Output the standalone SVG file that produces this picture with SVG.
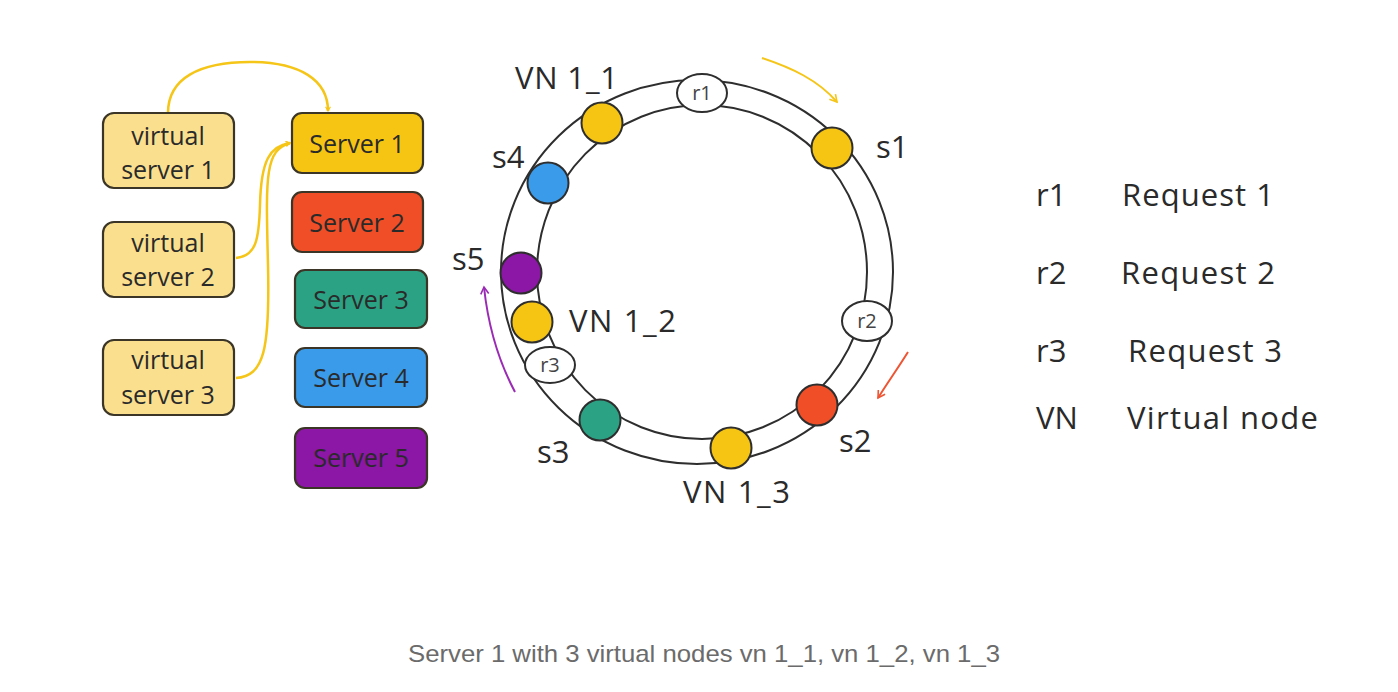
<svg xmlns="http://www.w3.org/2000/svg" width="1398" height="692" viewBox="0 0 1398 692">
<defs>
<style>
.t{font-family:"Open Sans","Noto Sans","DejaVu Sans",sans-serif;fill:#2a2a2a}
.bx{font-size:25px;text-anchor:middle}
.lb{font-size:31px}
.vs{fill:#FAE08E;stroke:#3a3526;stroke-width:2.2}
.sv{stroke:#3a3526;stroke-width:2.2}
.nd{stroke:#2e2e2e;stroke-width:2}
.rq{fill:#fff;stroke:#2e2e2e;stroke-width:2}
.rqt{font-size:20px;text-anchor:middle;fill:#444}
.cn{fill:none;stroke:#F5C518;stroke-width:2.5}
</style>
<marker id="ay" viewBox="0 0 10 10" refX="8" refY="5" markerWidth="6" markerHeight="6" orient="auto" markerUnits="userSpaceOnUse">
<path d="M1,1 L8,5 L1,9" fill="none" stroke="#F5C518" stroke-width="2"/>
</marker>
<marker id="ar" viewBox="0 0 10 10" refX="8" refY="5" markerWidth="10" markerHeight="10" orient="auto" markerUnits="userSpaceOnUse">
<path d="M1,1 L8,5 L1,9" fill="none" stroke="#EE5533" stroke-width="1.6"/>
</marker>
<marker id="ap" viewBox="0 0 10 10" refX="8" refY="5" markerWidth="10" markerHeight="10" orient="auto" markerUnits="userSpaceOnUse">
<path d="M1,1 L8,5 L1,9" fill="none" stroke="#9B2BB5" stroke-width="1.6"/>
</marker>
<marker id="ayr" viewBox="0 0 10 10" refX="8" refY="5" markerWidth="10" markerHeight="10" orient="auto" markerUnits="userSpaceOnUse">
<path d="M1,1 L8,5 L1,9" fill="none" stroke="#F5C518" stroke-width="1.6"/>
</marker>
</defs>
<rect width="1398" height="692" fill="#fff"/>

<g id="connectors">
<path class="cn" d="M168,113 C168,78 200,62 250,62 C300,62 328,80 328,111" marker-end="url(#ay)"/>
<path class="cn" d="M236,258 C256,256 259,240 260,205 C261,160 270,146 290,143" marker-end="url(#ay)"/>
<path class="cn" d="M236,378 C264,376 270,350 268,265 C266,180 264,150 290,143" marker-end="url(#ay)"/>
<path d="M762,58 C792,68 818,80 837,102" fill="none" stroke="#F5C518" stroke-width="2" marker-end="url(#ayr)"/>
<path d="M908,352 C898,368 888,382 878,398" fill="none" stroke="#EE5533" stroke-width="2" marker-end="url(#ar)"/>
<path d="M515,392 C498,360 488,325 484,287" fill="none" stroke="#9B2BB5" stroke-width="2" marker-end="url(#ap)"/>
</g>

<g id="vserver1"><rect class="vs" x="103" y="113" width="131" height="75" rx="11"/>
<text class="t bx" x="168" y="145">virtual</text><text class="t bx" x="168" y="179">server 1</text></g>
<g id="vserver2"><rect class="vs" x="103" y="222" width="131" height="75" rx="11"/>
<text class="t bx" x="168" y="252">virtual</text><text class="t bx" x="168" y="286">server 2</text></g>
<g id="vserver3"><rect class="vs" x="103" y="340" width="131" height="75" rx="11"/>
<text class="t bx" x="168" y="369">virtual</text><text class="t bx" x="168" y="404">server 3</text></g>

<g id="server1"><rect class="sv" x="292" y="113" width="131" height="60" rx="10" fill="#F6C514"/>
<text class="t bx" x="357" y="153">Server 1</text></g>
<g id="server2"><rect class="sv" x="292" y="192" width="131" height="60" rx="10" fill="#EF4E27"/>
<text class="t bx" x="357" y="232">Server 2</text></g>
<g id="server3"><rect class="sv" x="295" y="270" width="132" height="58" rx="10" fill="#2BA283"/>
<text class="t bx" x="361" y="309">Server 3</text></g>
<g id="server4"><rect class="sv" x="295" y="348" width="132" height="59" rx="10" fill="#3A9BEA"/>
<text class="t bx" x="361" y="387">Server 4</text></g>
<g id="server5"><rect class="sv" x="295" y="428" width="132" height="60" rx="10" fill="#8C16A6"/>
<text class="t bx" x="361" y="467">Server 5</text></g>

<g id="ring">
<ellipse cx="697" cy="272" rx="196" ry="192" fill="none" stroke="#2e2e2e" stroke-width="2"/>
<ellipse cx="702" cy="272" rx="165" ry="167" fill="none" stroke="#2e2e2e" stroke-width="2"/>
</g>

<g id="r1"><ellipse class="rq" cx="702" cy="93" rx="25" ry="19"/><text class="t rqt" x="702" y="100">r1</text></g>
<g id="r2"><ellipse class="rq" cx="867" cy="321" rx="25" ry="20"/><text class="t rqt" x="867" y="328">r2</text></g>
<g id="r3"><ellipse class="rq" cx="550" cy="365" rx="25" ry="18"/><text class="t rqt" x="550" y="372">r3</text></g>

<g id="vn11"><circle class="nd" cx="602" cy="123" r="20.5" fill="#F6C514"/><text class="t lb" x="515" y="89" textLength="103">VN 1_1</text></g>
<g id="s1"><circle class="nd" cx="832" cy="148" r="20.5" fill="#F6C514"/><text class="t lb" x="876" y="158">s1</text></g>
<g id="s4"><circle class="nd" cx="548" cy="183" r="20.5" fill="#3A9BEA"/><text class="t lb" x="492" y="168">s4</text></g>
<g id="s5"><circle class="nd" cx="521" cy="273" r="20.5" fill="#8C16A6"/><text class="t lb" x="452" y="270">s5</text></g>
<g id="vn12"><circle class="nd" cx="532" cy="322" r="20.5" fill="#F6C514"/><text class="t lb" x="569" y="332" textLength="107">VN 1_2</text></g>
<g id="s3"><circle class="nd" cx="600" cy="420" r="20.5" fill="#2BA283"/><text class="t lb" x="537" y="463">s3</text></g>
<g id="vn13"><circle class="nd" cx="731" cy="448" r="20.5" fill="#F6C514"/><text class="t lb" x="683" y="503" textLength="107">VN 1_3</text></g>
<g id="s2"><circle class="nd" cx="817" cy="405" r="20.5" fill="#EF4E27"/><text class="t lb" x="839" y="452">s2</text></g>

<g id="legend">
<text class="t lb" x="1036" y="206">r1</text><text class="t lb" x="1122" y="206" textLength="152">Request 1</text>
<text class="t lb" x="1036" y="284">r2</text><text class="t lb" x="1121" y="284" textLength="154">Request 2</text>
<text class="t lb" x="1036" y="362">r3</text><text class="t lb" x="1128" y="362" textLength="154">Request 3</text>
<text class="t lb" x="1036" y="429">VN</text><text class="t lb" x="1127" y="429" textLength="191">Virtual node</text>
</g>

<text x="408" y="662" font-family="Liberation Sans, Arial, sans-serif" font-size="24" fill="#6b6b6b" textLength="592" lengthAdjust="spacingAndGlyphs">Server 1 with 3 virtual nodes vn 1_1, vn 1_2, vn 1_3</text>
</svg>
